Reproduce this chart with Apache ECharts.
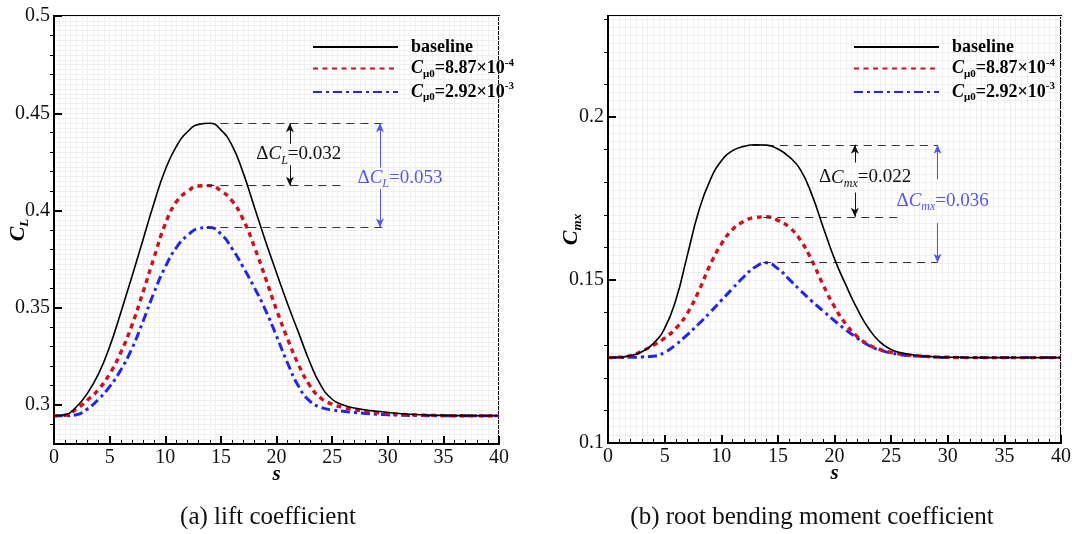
<!DOCTYPE html>
<html><head><meta charset="utf-8">
<script src="https://cdn.jsdelivr.net/npm/echarts@6/dist/echarts.min.js"></script>
<style>html,body{margin:0;padding:0;background:#fff}#c{width:1092px;height:534px}</style>
</head><body><div id="c"></div>
<script>
// ---------------- data ----------------
const sValues = [0,1,2,3,4,5,6,7,8,9,10,11,12,13,14,15,16,17,18,19,20,21,22,23,24,25,26,27,28,29,30,31,32,33,34,35,36,37,38,39,40];

const clBaseline = [0.2945,0.2950,0.2990,0.3060,0.3160,0.3300,0.3475,0.3660,0.3850,0.4040,0.4210,0.4330,0.4405,0.4443,0.4449,0.4415,0.4335,0.4195,0.4020,0.3845,0.3680,0.3520,0.3370,0.3220,0.3100,0.3030,0.3000,0.2985,0.2975,0.2968,0.2962,0.2957,0.2953,0.2950,0.2948,0.2947,0.2946,0.2946,0.2945,0.2945,0.2945];
const clLow = [0.2945,0.2948,0.2980,0.3025,0.3080,0.3160,0.3270,0.3410,0.3580,0.3760,0.3930,0.4045,0.4098,0.4126,0.4128,0.4102,0.4050,0.3955,0.3815,0.3655,0.3490,0.3340,0.3205,0.3100,0.3035,0.3005,0.2988,0.2977,0.2969,0.2962,0.2957,0.2953,0.2950,0.2948,0.2947,0.2946,0.2945,0.2945,0.2945,0.2945,0.2945];
const clHigh = [0.2945,0.2945,0.2950,0.2980,0.3030,0.3095,0.3180,0.3290,0.3430,0.3580,0.3710,0.3810,0.3872,0.3908,0.3913,0.3880,0.3805,0.3710,0.3605,0.3490,0.3355,0.3215,0.3095,0.3020,0.2988,0.2975,0.2968,0.2962,0.2957,0.2953,0.2950,0.2948,0.2947,0.2946,0.2945,0.2945,0.2945,0.2945,0.2945,0.2945,0.2945];

const cmxBaseline = [0.1262,0.1263,0.1268,0.1280,0.1305,0.1352,0.1440,0.1575,0.1710,0.1805,0.1865,0.1897,0.1910,0.1915,0.1914,0.1902,0.1878,0.1838,0.1762,0.1662,0.1565,0.1485,0.1412,0.1352,0.1310,0.1287,0.1276,0.1270,0.1266,0.1264,0.1263,0.1263,0.1262,0.1262,0.1262,0.1262,0.1262,0.1262,0.1262,0.1262,0.1262];
const cmxLow = [0.1262,0.1263,0.1268,0.1282,0.1300,0.1322,0.1352,0.1398,0.1465,0.1545,0.1610,0.1655,0.1680,0.1692,0.1694,0.1683,0.1662,0.1622,0.1560,0.1485,0.1418,0.1365,0.1327,0.1302,0.1287,0.1278,0.1272,0.1268,0.1266,0.1264,0.1263,0.1262,0.1262,0.1262,0.1262,0.1262,0.1262,0.1262,0.1262,0.1262,0.1262];
const cmxHigh = [0.1262,0.1262,0.1263,0.1264,0.1266,0.1278,0.1302,0.1332,0.1365,0.1400,0.1437,0.1474,0.1510,0.1540,0.1553,0.1535,0.1502,0.1468,0.1435,0.1405,0.1375,0.1347,0.1322,0.1300,0.1285,0.1276,0.1270,0.1267,0.1265,0.1263,0.1262,0.1262,0.1262,0.1262,0.1262,0.1262,0.1262,0.1262,0.1262,0.1262,0.1262];

const seriesNames = ['baseline', 'Cmu0=8.87e-4', 'Cmu0=2.92e-3'];
const legendTexts = ['{b|baseline}', '{ci|C}{sub|\u03bc0}{b|=8.87\u00d710}{sup|-4}', '{ci|C}{sub|\u03bc0}{b|=2.92\u00d710}{sup|-3}'];

const xMajorTicks = [0,5,10,15,20,25,30,35,40];
const clMajorTicks = [0.3,0.35,0.4,0.45,0.5];
const clMinorTicks = [0.29,0.31,0.32,0.33,0.34,0.36,0.37,0.38,0.39,0.41,0.42,0.43,0.44,0.46,0.47,0.48,0.49];
const cmxMajorTicks = [0.1,0.15,0.2];
const cmxMinorTicks = [0.11,0.12,0.13,0.14,0.16,0.17,0.18,0.19,0.21,0.22,0.23];

const clDeltas = ['0.032','0.053'];
const cmxDeltas = ['0.022','0.036'];
const captions = ['(a) lift coefficient', '(b) root bending moment coefficient'];

// ---------------- style ----------------
const SERIF = '"Liberation Serif","Times New Roman",serif';
const RED = '#d0101e', BLUE = '#2424f0', ABLUE = '#5656ee';
const lineStyles = [
  {color:'#000', width:1.6, type:'solid'},
  {color:RED, width:3.4, type:[5,4.5]},
  {color:BLUE, width:3, type:[9,4,3,4]}
];

function pairs(arr){ return sValues.map((s,i)=>[s, arr[i]]); }
function peak(arr){ let m=-Infinity, k=0; arr.forEach((v,i)=>{ if(v>m){m=v;k=i;} }); return [sValues[k], m]; }

function annotations(base, low, high, cfg){
  const pb = peak(base), pl = peak(low), ph = peak(high);
  const dash = {type:[8,6], color:'#333', width:1.2};
  const seg = (x1,y1,x2,y2,style,endSym)=>[
    {coord:[x1,y1], symbol:'none', lineStyle:style},
    {coord:[x2,y2], symbol:endSym, symbolSize:[6,9], lineStyle:style}
  ];
  const blk = {type:'solid', color:'#111', width:1};
  const blu = {type:'solid', color:ABLUE, width:1};
  const midB = (pb[1]+pl[1])/2 + cfg.blackShift;
  const midH = (pb[1]+ph[1])/2 + cfg.blueShift;
  return {
    markLine: {
      silent:true, animation:false, label:{show:false},
      data: [
        seg(pb[0]-0.3,pb[1],cfg.end[0],pb[1],dash,'none'),
        seg(pl[0]-0.3,pl[1],cfg.end[1],pl[1],dash,'none'),
        seg(ph[0]-0.3,ph[1],cfg.end[2],ph[1],dash,'none'),
        seg(cfg.blackX, midB+cfg.blackGap, cfg.blackX, pb[1], blk,'arrow'),
        seg(cfg.blackX, midB-cfg.blackGap, cfg.blackX, pl[1], blk,'arrow'),
        seg(cfg.blueX, midH+cfg.blueGap, cfg.blueX, pb[1], blu,'arrow'),
        seg(cfg.blueX, midH-cfg.blueGap, cfg.blueX, ph[1], blu,'arrow')
      ]
    },
    markPoint: {
      silent:true, animation:false, symbol:'circle', symbolSize:1,
      itemStyle:{color:'rgba(0,0,0,0)'},
      data: [
        {coord:[cfg.blackX+cfg.blackTextDx, midB], label:{show:true, position:'inside', formatter:'{n|\u0394}{i|C}{s|'+cfg.sub+'}{n|='+cfg.deltas[0]+'}', rich:richAnn('#111')}},
        {coord:[cfg.blueX+cfg.blueTextDx, midH], label:{show:true, position:'inside', formatter:'{n|\u0394}{i|C}{s|'+cfg.sub+'}{n|='+cfg.deltas[1]+'}', rich:richAnn(ABLUE)}}
      ]
    }
  };
}
function richAnn(c){
  return {
    n:{fontFamily:SERIF, fontSize:19, color:c, lineHeight:24},
    i:{fontFamily:SERIF, fontSize:19, fontStyle:'italic', color:c, lineHeight:24},
    s:{fontFamily:SERIF, fontSize:12, fontStyle:'italic', color:c, verticalAlign:'bottom'}
  };
}

const annL = annotations(clBaseline, clLow, clHigh, {end:[29.5,26.1,29.5], blackX:21.2, blueX:29.3, blackGap:0.0055, blueGap:0.0055, blackShift:0, blueShift:-0.0015, blackTextDx:0.8, blueTextDx:1.8, sub:'L', deltas:clDeltas});
const annR = annotations(cmxBaseline, cmxLow, cmxHigh, {end:[29.1,25.8,29.1], blackX:21.8, blueX:29.1, blackGap:0.0046, blueGap:0.0067, blackShift:0.001, blueShift:0.0008, blackTextDx:0.9, blueTextDx:0.45, sub:'mx', deltas:cmxDeltas});

function makeSeries(gi, arrs, ann){
  return arrs.map((a,k)=>Object.assign({
    type:'line', name:seriesNames[k], xAxisIndex:gi, yAxisIndex:gi,
    data:pairs(a), symbol:'none', smooth:0.5, animation:false,
    lineStyle:lineStyles[k], itemStyle:{color:'rgba(0,0,0,0)', borderWidth:0}, z: 5-k
  }, k===0 ? ann : {}));
}

const tickFont = {fontFamily:SERIF, fontSize:20, color:'#111'};
function mainX(gi){
  return {type:'value', gridIndex:gi, min:0, max:40, interval:5,
    axisLine:{show:true, lineStyle:{color:'#000', width:2}},
    axisTick:{show:true, inside:true, length:8, lineStyle:{color:'#000', width:2}},
    minorTick:{show:true, splitNumber:5, length:4, lineStyle:{color:'#000', width:1}},
    axisLabel:Object.assign({margin:4, customValues:xMajorTicks, formatter:v=>String(v)}, tickFont),
    splitLine:{show:false},
    name:'{v|s}', nameLocation:'middle', nameGap:20, nameMoveOverlap:false,
    nameTextStyle:{rich:{v:{fontFamily:SERIF, fontSize:21, fontWeight:'bold', fontStyle:'italic', color:'#000'}}}
  };
}
function gridX(gi){
  return {type:'value', gridIndex:gi, min:0, max:40, interval:0.5,
    axisLine:{show:false}, axisTick:{show:false}, axisLabel:{show:false},
    splitLine:{show:true, lineStyle:{color:'#efefef', width:1}}};
}
function mainY(gi, min, max, majors, nameRich, gap){
  return {type:'value', gridIndex:gi, min:min, max:max,
    axisLine:{show:true, lineStyle:{color:'#000', width:2}},
    axisTick:{show:true, inside:true, length:8, customValues:majors, lineStyle:{color:'#000', width:2}},
    axisLabel:Object.assign({margin:4, customValues:majors, formatter:v=>String(+v.toFixed(3))}, tickFont),
    splitLine:{show:false},
    name:nameRich, nameLocation:'middle', nameGap:gap, nameRotate:90, nameMoveOverlap:false,
    nameTextStyle:{rich:{
      c:{fontFamily:SERIF, fontSize:22, fontWeight:'bold', fontStyle:'italic', color:'#000', lineHeight:26},
      s:{fontFamily:SERIF, fontSize:13, fontWeight:'bold', fontStyle:'italic', color:'#000', verticalAlign:'bottom'}
    }}
  };
}
function minorY(gi, min, max, minors){
  return {type:'value', gridIndex:gi, min:min, max:max,
    axisLine:{show:false},
    axisTick:{show:true, inside:true, length:4, customValues:minors, lineStyle:{color:'#000', width:1}},
    axisLabel:{show:false}, splitLine:{show:false}};
}
function gridY(gi, min, max){
  return {type:'value', gridIndex:gi, min:min, max:max, interval:0.0025,
    axisLine:{show:false}, axisTick:{show:false}, axisLabel:{show:false},
    splitLine:{show:true, lineStyle:{color:'#efefef', width:1}}};
}

const legendRich = {
  b:{fontFamily:SERIF, fontSize:18, fontWeight:'bold', color:'#000', lineHeight:22},
  ci:{fontFamily:SERIF, fontSize:18, fontWeight:'bold', fontStyle:'italic', color:'#000', lineHeight:22},
  sub:{fontFamily:SERIF, fontSize:11, fontWeight:'bold', color:'#000', verticalAlign:'bottom'},
  sup:{fontFamily:SERIF, fontSize:11, fontWeight:'bold', color:'#000', verticalAlign:'top'}
};
function legendAt(left){
  return {show:true, orient:'vertical', left:left, top:38, itemWidth:85, itemHeight:14, itemGap:1.5,
    padding:0, selectedMode:false, data:seriesNames,
    itemStyle:{borderWidth:0},
    formatter:name=>legendTexts[seriesNames.indexOf(name)],
    textStyle:{rich:legendRich, padding:[0,0,0,8]}};
}

const option = {
  backgroundColor:'#fff', animation:false,
  grid:[
    {left:54, top:16, width:445, height:428, show:true, borderColor:'#000', borderWidth:2, backgroundColor:'transparent', outerBoundsMode:'none'},
    {left:608, top:16, width:453, height:427, show:true, borderColor:'#000', borderWidth:2, backgroundColor:'transparent', outerBoundsMode:'none'}
  ],
  xAxis:[mainX(0), mainX(1), gridX(0), gridX(1)],
  yAxis:[
    mainY(0, 0.28, 0.5, clMajorTicks, '{c|C}{s|L}', 23),
    mainY(1, 0.1, 0.231, cmxMajorTicks, '{c|C}{s|mx}', 24),
    minorY(0, 0.28, 0.5, clMinorTicks),
    minorY(1, 0.1, 0.231, cmxMinorTicks),
    gridY(0, 0.28, 0.5),
    gridY(1, 0.1, 0.231)
  ],
  legend:[legendAt(312), legendAt(853)],
  series:[].concat(
    makeSeries(0, [clBaseline, clLow, clHigh], annL),
    makeSeries(1, [cmxBaseline, cmxLow, cmxHigh], annR)
  ),
  graphic:[
    {type:'text', x:268, y:517, style:{text:captions[0], fontFamily:SERIF, fontSize:25, fill:'#111', align:'center', verticalAlign:'middle'}},
    {type:'text', x:812, y:517, style:{text:captions[1], fontFamily:SERIF, fontSize:25, fill:'#111', align:'center', verticalAlign:'middle'}}
  ]
};
option.xAxis[2].z = 0; option.xAxis[3].z = 0; option.yAxis[4].z = 0; option.yAxis[5].z = 0;

const chart = echarts.init(document.getElementById('c'), null, {renderer:'canvas'});
chart.setOption(option);
</script></body></html>
